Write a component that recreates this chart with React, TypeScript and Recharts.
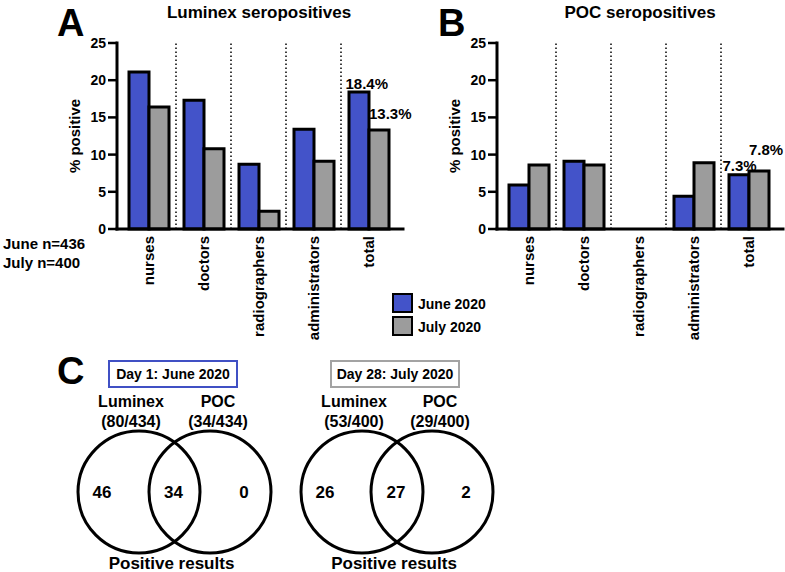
import React from 'react';
import {
  BarChart,
  Bar,
  XAxis,
  YAxis,
  ReferenceLine,
  LabelList,
  ScatterChart,
  Scatter,
} from 'recharts';

// bar data, % positive
const categories = ['nurses', 'doctors', 'radiographers', 'administrators', 'total'];
const luminexJune = [21.1, 17.3, 8.7, 13.4, 18.4];
const luminexJuly = [16.4, 10.8, 2.4, 9.1, 13.3];
const pocJune = [5.9, 9.1, 0, 4.4, 7.3];
const pocJuly = [8.6, 8.6, 0, 8.9, 7.8];
const yTicks = [0, 5, 10, 15, 20, 25];

// venn data
const vennTitles = ['Day 1: June 2020', 'Day 28: July 2020'];
const luminexCounts = ['(80/434)', '(53/400)'];
const pocCounts = ['(34/434)', '(29/400)'];
const onlyLuminex = [46, 26];
const bothTests = [34, 27];
const onlyPoc = [0, 2];

const FONT = '"Liberation Sans", Arial, Helvetica, sans-serif';
const BLUE = '#4353c9';
const GREY = '#9c9c9c';
const BOX_BLUE = '#4050c4';
const BOX_GREY = '#a3a3a3';

// venn layout (px inside the venn chart)
const VENN_TOP = 340;
const R = 61;
const lumX = [139, 362];
const pocX = [210, 432];
const circleY = 152;

function Txt({ x, y, size, children, align = 'center' }: any) {
  const tx = align === 'center' ? '-50%' : align === 'right' ? '-100%' : '0';
  return (
    <div
      style={{
        position: 'absolute',
        left: x,
        top: y - size / 2,
        fontSize: size,
        lineHeight: 1,
        fontWeight: 700,
        whiteSpace: 'nowrap',
        transform: `translateX(${tx})`,
      }}
    >
      {children}
    </div>
  );
}

function XTick({ x, y, payload }: any) {
  return (
    <g transform={`translate(${x},${y})`}>
      <text
        x={0}
        y={0}
        dy={5}
        textAnchor="end"
        transform="rotate(-90)"
        fontSize={15}
        fontWeight={700}
        fill="#000"
      >
        {payload.value}
      </text>
    </g>
  );
}

// only the "total" rows carry a tag, so the label shows there alone
function totalLabel(dx: number, dy: number) {
  return (props: any) => {
    const { x, y, value } = props;
    if (!value) return null;
    return (
      <text x={x + dx} y={y + dy} fontSize={15} fontWeight={700} fill="#000" textAnchor="start">
        {value}
      </text>
    );
  };
}

function BarPanel({ june, july, width, right, offsets }: any) {
  const data = categories.map((c, i) => ({
    name: c,
    june: june[i],
    july: july[i],
    juneTag: c === 'total' ? `${june[i].toFixed(1)}%` : '',
    julyTag: c === 'total' ? `${july[i].toFixed(1)}%` : '',
  }));
  return (
    <BarChart
      width={width}
      height={345}
      data={data}
      margin={{ top: 43, right, bottom: 0, left: 0 }}
      barSize={20}
      barGap={0}
    >
      {categories.slice(1).map((c) => (
        <ReferenceLine
          key={c}
          x={c}
          position="start"
          stroke="#000"
          strokeWidth={1.5}
          strokeDasharray="1.5 2.5"
        />
      ))}
      <XAxis
        dataKey="name"
        height={116}
        interval={0}
        padding={{ left: 4, right: 7 }}
        tickLine={false}
        tickSize={0}
        tickMargin={7}
        tick={<XTick />}
        axisLine={{ stroke: '#000', strokeWidth: 3, strokeLinecap: 'square' }}
      />
      <YAxis
        width={117}
        domain={[0, 25]}
        ticks={yTicks}
        interval={0}
        tickSize={9}
        tickMargin={2}
        tick={{ fill: '#000', fontSize: 14, fontWeight: 700 }}
        tickLine={{ stroke: '#000', strokeWidth: 2.5 }}
        axisLine={{ stroke: '#000', strokeWidth: 3, strokeLinecap: 'square' }}
        label={{
          value: '% positive',
          angle: -90,
          position: 'insideLeft',
          offset: 75,
          style: { textAnchor: 'middle', fontSize: 15, fontWeight: 700, fill: '#000' },
        }}
      />
      <Bar dataKey="june" fill={BLUE} stroke="#000" strokeWidth={3} isAnimationActive={false}>
        <LabelList dataKey="juneTag" content={totalLabel(offsets[0], offsets[1])} />
      </Bar>
      <Bar dataKey="july" fill={GREY} stroke="#000" strokeWidth={3} isAnimationActive={false}>
        <LabelList dataKey="julyTag" content={totalLabel(offsets[2], offsets[3])} />
      </Bar>
    </BarChart>
  );
}

function Ring({ cx, cy }: any) {
  return <circle cx={cx} cy={cy} r={R} fill="none" stroke="#000" strokeWidth={3} />;
}

function CountMark({ cx, cy, payload }: any) {
  return (
    <text x={cx} y={cy} dy={6} textAnchor="middle" fontSize={17} fontWeight={700} fill="#000">
      {payload.count}
    </text>
  );
}

function Venn() {
  const circles = [0, 1].flatMap((i) => [
    { x: lumX[i], y: circleY },
    { x: pocX[i], y: circleY },
  ]);
  const regions = [0, 1].flatMap((i) => [
    { x: lumX[i] - 37, y: circleY, count: onlyLuminex[i] },
    { x: (lumX[i] + pocX[i]) / 2 - 1, y: circleY, count: bothTests[i] },
    { x: pocX[i] + 34, y: circleY, count: onlyPoc[i] },
  ]);
  return (
    <ScatterChart width={500} height={232} margin={{ top: 0, right: 0, bottom: 0, left: 0 }}>
      <XAxis type="number" dataKey="x" domain={[0, 500]} hide />
      <YAxis type="number" dataKey="y" domain={[0, 232]} reversed hide />
      <Scatter data={circles} shape={<Ring />} isAnimationActive={false} />
      <Scatter data={regions} shape={<CountMark />} isAnimationActive={false} />
    </ScatterChart>
  );
}

export default function App() {
  return (
    <div
      style={{
        position: 'absolute',
        left: 0,
        top: 0,
        width: 785,
        height: 572,
        background: '#fff',
        fontFamily: FONT,
        color: '#000',
        overflow: 'hidden',
      }}
    >
      <div style={{ position: 'absolute', left: 0, top: 0 }}>
        <BarPanel june={luminexJune} july={luminexJuly} width={420} right={17} offsets={[-3.5, -3.5, 0, -11.5]} />
      </div>
      <div style={{ position: 'absolute', left: 380, top: 0 }}>
        <BarPanel june={pocJune} july={pocJuly} width={405} right={2} offsets={[-6.5, -4, 0, -15.5]} />
      </div>
      <div style={{ position: 'absolute', left: 0, top: VENN_TOP }}>
        <Venn />
      </div>

      <Txt x={57} y={23} size={38} align="left">A</Txt>
      <Txt x={438} y={23} size={38} align="left">B</Txt>
      <Txt x={57} y={371} size={38} align="left">C</Txt>
      <Txt x={259} y={12} size={17}>Luminex seropositives</Txt>
      <Txt x={640} y={12} size={17}>POC seropositives</Txt>
      <Txt x={3} y={243} size={15} align="left">June n=436</Txt>
      <Txt x={3} y={262} size={15} align="left">July n=400</Txt>

      {[
        { label: 'June 2020', color: BLUE, top: 293 },
        { label: 'July 2020', color: GREY, top: 316 },
      ].map((it) => (
        <React.Fragment key={it.label}>
          <div
            style={{
              position: 'absolute',
              left: 392,
              top: it.top,
              width: 17,
              height: 16,
              background: it.color,
              border: '2.5px solid #000',
            }}
          />
          <Txt x={418} y={it.top + 11} size={14} align="left">{it.label}</Txt>
        </React.Fragment>
      ))}

      {[0, 1].map((i) => {
        const boxLeft = i === 0 ? 108 : 330;
        const mid = (lumX[i] + pocX[i]) / 2;
        return (
          <React.Fragment key={i}>
            <div
              style={{
                position: 'absolute',
                left: boxLeft,
                top: 360,
                width: 126,
                height: 24,
                border: `2.5px solid ${i === 0 ? BOX_BLUE : BOX_GREY}`,
                fontSize: 14,
                fontWeight: 700,
                lineHeight: '24px',
                textAlign: 'center',
                whiteSpace: 'nowrap',
              }}
            >
              {vennTitles[i]}
            </div>
            <Txt x={lumX[i] - 8} y={402} size={16}>Luminex</Txt>
            <Txt x={lumX[i] - 8} y={422} size={16}>{luminexCounts[i]}</Txt>
            <Txt x={pocX[i] + 8} y={402} size={16}>POC</Txt>
            <Txt x={pocX[i] + 8} y={422} size={16}>{pocCounts[i]}</Txt>
            <Txt x={mid - 3} y={563} size={17}>Positive results</Txt>
          </React.Fragment>
        );
      })}
    </div>
  );
}
